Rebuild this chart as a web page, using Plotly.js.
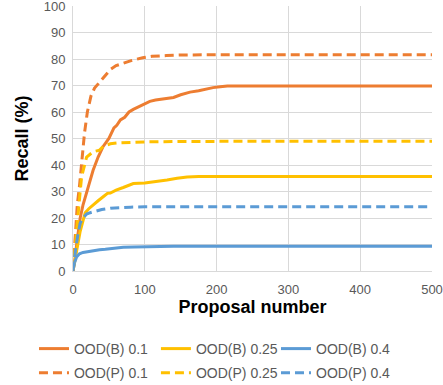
<!DOCTYPE html>
<html><head><meta charset="utf-8">
<script src="https://cdn.plot.ly/plotly-3.0.1.min.js"></script>
<style>html,body{margin:0;padding:0;background:#fff}#chart{width:443px;height:385px}</style>
</head><body><div id="chart"></div>
<script>
const names = ["OOD(B) 0.1","OOD(B) 0.25","OOD(B) 0.4","OOD(P) 0.1","OOD(P) 0.25","OOD(P) 0.4"];
const xB01 = [0,3,6,10,14,17,22,28,35,42,50,57,61,66,72,78,84,92,100,107,115,125,140,150,163,175,185,195,205,215,300,400,500];
const yB01 = [0,5,12,20,25,28,33,38,43,47,50,54,55,57,58,60,61,62,63,64,64.5,65,65.5,66.5,67.5,68,68.7,69.2,69.5,69.8,69.8,69.8,69.8];
const xB025 = [0,3,6,10,14,17,22,28,35,42,48,52,60,70,84,100,115,131,145,159,175,500];
const yB025 = [0,5,10,15,19,22,23.5,25,26.5,28,29.3,29.4,30.5,31.5,33,33.2,33.7,34.3,35,35.5,35.7,35.7];
const xB04 = [0,2,5,9,14,20,28,37,45,55,70,85,100,140,500];
const yB04 = [0,3,5.3,6.5,7,7.3,7.5,8,8.2,8.5,9,9.1,9.2,9.3,9.3];
const xP01 = [0,2,4,6,9,12,16,20,25,30,33,40,46,52,60,70,80,97,110,130,150,200,300,400,500];
const yP01 = [0,10,18,25,32,42,52,60,66,69,70,72,74,76,77.5,78.5,79.3,80.5,81,81.3,81.5,81.6,81.6,81.6,81.6];
const xP025 = [0,3,6,10,12,19,28,37,42,52,61,80,100,150,500];
const yP025 = [0,10,20,30,35.6,43,45,45.6,47,48,48.3,48.5,48.7,48.9,49];
const xP04 = [0,2,4,7,10,14,19,24,30,40,52,65,80,100,500];
const yP04 = [0,5,9,14,18,20,21.5,22,22.5,23.2,23.7,24,24.1,24.2,24.2];
const xTicks = [0,100,200,300,400,500];
const yTicks = [0,10,20,30,40,50,60,70,80,90,100];

const orange = "#ED7D31", yellow = "#FFC000", blue = "#5B9BD5";
const dashP = "9px,5px";
function tr(x, y, name, color, dash, leg) {
  return {x: x, y: y, name: name, type: "scatter", mode: "lines", legend: leg,
    line: {color: color, width: 3, dash: dash}};
}
const data = [
  tr(xB01, yB01, names[0], orange, "solid", "legend"),
  tr(xB025, yB025, names[1], yellow, "solid", "legend2"),
  tr(xB04, yB04, names[2], blue, "solid", "legend3"),
  tr(xP01, yP01, names[3], orange, dashP, "legend4"),
  tr(xP025, yP025, names[4], yellow, dashP, "legend5"),
  tr(xP04, yP04, names[5], blue, dashP, "legend6")
];
const fam = "Liberation Sans, Arial, sans-serif";
const tickFont = {family: fam, size: 13, color: "#595959"};
function leg(xpos, ypos) {
  return {orientation: "h", x: xpos, xanchor: "left", xref: "container",
    y: ypos, yanchor: "middle", yref: "container", itemwidth: 30,
    font: {family: fam, size: 14, color: "#595959"},
    bgcolor: "rgba(0,0,0,0)"};
}
const colX = [0.0767, 0.352, 0.623];
const rowY = [0.0935, 0.031];
const layout = {
  width: 443, height: 385,
  margin: {l: 73, r: 11, t: 6, b: 114},
  paper_bgcolor: "#fff", plot_bgcolor: "#fff",
  showlegend: true,
  xaxis: {range: [0, 500], tickvals: xTicks, ticktext: xTicks.map(String),
    showgrid: true, gridcolor: "#d9d9d9", gridwidth: 1, automargin: false,
    zeroline: false, showline: true, linecolor: "#d9d9d9", linewidth: 1,
    ticks: "", tickfont: tickFont, ticklabelstandoff: 6, ticklabeloverflow: "allow",
    title: {text: "Proposal number", font: {family: fam, size: 18, color: "#000", weight: "bold"}, standoff: 3}},
  yaxis: {range: [-0.0001, 100.0001], tickvals: yTicks, ticktext: yTicks.map(String),
    showgrid: true, gridcolor: "#d9d9d9", gridwidth: 1, automargin: false,
    zeroline: false, showline: true, linecolor: "#d9d9d9", linewidth: 1,
    ticks: "", tickfont: tickFont, ticklabelstandoff: 4, ticklabeloverflow: "allow",
    title: {text: "Recall (%)", font: {family: fam, size: 18, color: "#000", weight: "bold"}, standoff: 10}},
  legend: leg(colX[0], rowY[0]),
  legend2: leg(colX[1], rowY[0]),
  legend3: leg(colX[2], rowY[0]),
  legend4: leg(colX[0], rowY[1]),
  legend5: leg(colX[1], rowY[1]),
  legend6: leg(colX[2], rowY[1])
};
Plotly.newPlot("chart", data, layout, {displayModeBar: false, staticPlot: true});
</script></body></html>
